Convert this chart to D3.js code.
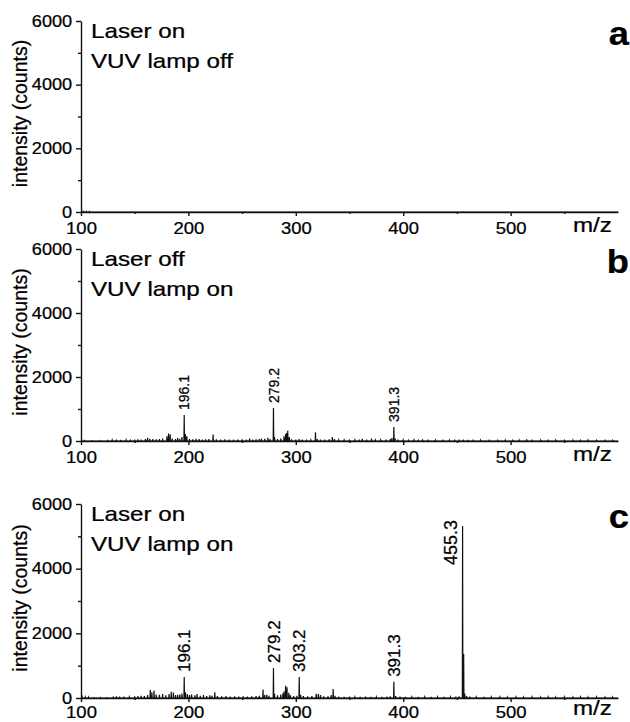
<!DOCTYPE html>
<html>
<head>
<meta charset="utf-8">
<script src="https://cdn.jsdelivr.net/npm/d3@7"></script>
<style>
  body { margin: 0; background: #fff; }
  svg { display: block; font-family: "Liberation Sans", Arial, sans-serif; }
  svg text { fill: #000; stroke: #000; stroke-width: 0.25; }
  .axis path, .axis line { stroke: #111; stroke-width: 1.4; }
  .axis text { fill: #000; font-size: 16.5px; font-family: "Liberation Sans", Arial, sans-serif; }
</style>
</head>
<body>
<div id="vis"></div>
<script>
// mass spectra, three conditions
const FRAME_WIDTH = 630;
const FRAME_HEIGHT = 722;

const panelLetters = ["a", "b", "c"];
const panelNotes = [["Laser on", "VUV lamp off"], ["Laser off", "VUV lamp on"], ["Laser on", "VUV lamp on"]];
const xTicks = [100, 200, 300, 400, 500];
const xMinor = [150, 250, 350, 450, 550];
const yTicks = [0, 2000, 4000, 6000];
const yMinor = [1000, 3000, 5000];

// [m/z, counts] sticks
const specA = [[102, 20], [105, 18], [108, 15]];

const specB = [[103,15],[110,10],[118,12],[125,15],[129,30],[133,40],[137,35],[142,30],[146,20],[150,40],[153,50],[156,45],[160,60],[162,100],[164,70],[167,60],[170,50],[173,60],[176,80],[180,150],[181.5,230],[183,210],[185,80],[188,60],[190,90],[192,70],[194,120],[196.1,810],[197.2,220],[198.5,150],[201,60],[204,50],[207,70],[210,60],[213,40],[216,50],[219,60],[223,200],[226,50],[230,40],[234,50],[238,40],[242,45],[246,40],[250,50],[254,40],[257,80],[260,40],[263,50],[266,60],[268,80],[271,70],[274,100],[276,60],[279.2,1030],[280.2,120],[283,60],[286,80],[289,150],[290.5,220],[291.5,250],[292.5,320],[294,120],[296,50],[300,40],[303,60],[306,40],[310,40],[314,30],[318.3,270],[320,60],[323,40],[327,40],[331,50],[334,120],[336,60],[340,30],[345,30],[350,20],[355,30],[359,40],[362,70],[366,40],[370.5,80],[374,30],[379,30],[384,40],[388,60],[389.5,90],[391.3,440],[392.5,80],[395,40],[400,30],[405,20],[410,30],[414,20],[418,50],[423,20],[430,25],[437,20],[443,25],[448,40],[452,45],[456,40],[460,35],[465,20],[472,25],[480,20],[488,20],[495,25],[502,20],[508,25],[515,50],[520,20],[528,25],[535,20],[542,25],[550,20],[558,25],[565,20],[572,25],[580,20],[588,20],[595,20]];

const specC = [[101,30],[104,30],[107,25],[112,10],[118,15],[124,10],[130,40],[133,50],[136,45],[140,20],[145,30],[150,50],[153,60],[156,70],[159,60],[162,90],[164.5,250],[166,180],[168,230],[170,110],[173,100],[176,120],[179,80],[182,120],[184,190],[186,170],[188,90],[190,100],[192,110],[194,140],[196.1,650],[197.2,180],[199,120],[201,90],[203,110],[206,80],[208,120],[211,70],[214,90],[217,60],[220,80],[222,70],[224.6,175],[227,60],[231,50],[235,60],[239,40],[243,50],[247,40],[251,50],[255,40],[259,50],[263,60],[266,70],[269.5,260],[271,90],[273,100],[275,70],[279.2,930],[280.2,130],[283,80],[286,110],[288,140],[289,200],[290.5,380],[291.8,330],[293.5,160],[295,80],[298,60],[301,70],[303.2,650],[304.5,100],[307,60],[311,50],[315,60],[319,130],[321,120],[323,90],[326,50],[330,50],[333,90],[334.8,280],[336.5,70],[340,40],[345,35],[350,40],[355,30],[360,35],[365,40],[370,35],[375,30],[380,35],[385,40],[388,50],[391.3,500],[393,60],[397,40],[402,35],[408,30],[414,35],[420,30],[426,35],[432,30],[438,35],[444,30],[449,40],[452,50],[455.3,5320],[456.3,1360],[457.3,140],[459,60],[462,40],[468,30],[475,35],[482,30],[490,30],[497,25],[505,30],[512,25],[520,30],[528,25],[535,30],[542,25],[550,30],[558,25],[565,30],[572,25],[580,30],[588,25],[595,25]];

// labelled peaks: [m/z, counts, text]
const labelsB = [[196.1, 810, "196.1"], [279.2, 1030, "279.2"], [391.3, 440, "391.3"]];
const labelsC = [[196.1, 650, "196.1"], [279.2, 930, "279.2"], [303.2, 650, "303.2"], [391.3, 500, "391.3"], [455.3, 5320, "455.3"]];

const spectra = [specA, specB, specC];
const peakLabels = [[], labelsB, labelsC];

// layout of each panel (pixel rows of 6000 and 0)
const PANELS = [
  {top: 21, bottom: 212, labelSize: 14, tickPad: 6, mzDrop: 20},
  {top: 249, bottom: 441, labelSize: 14, tickPad: 6, mzDrop: 20},
  {top: 504, bottom: 698, labelSize: 17, tickPad: 4, mzDrop: 17}
];
const X_LEFT = 81, X_RIGHT = 618;

const svg = d3.select("#vis").append("svg")
  .attr("width", FRAME_WIDTH)
  .attr("height", FRAME_HEIGHT);

const X_SCALE = d3.scaleLinear().domain([100, 600]).range([X_LEFT, X_RIGHT]);

PANELS.forEach((p, i) => {
  const Y_SCALE = d3.scaleLinear().domain([0, 6000]).range([p.bottom, p.top]);
  const g = svg.append("g");

  // spectrum as sticks joined along the baseline
  const pts = [[100, 0]];
  spectra[i].forEach(d => {
    pts.push([d[0] - 0.25, 0], [d[0], d[1]], [d[0] + 0.25, 0]);
  });
  pts.push([600, 0]);
  g.append("path")
    .datum(pts)
    .attr("fill", "none")
    .attr("stroke", "#111")
    .attr("stroke-width", 1.2)
    .attr("d", d3.line().x(d => X_SCALE(d[0])).y(d => Y_SCALE(d[1])));

  // axes
  g.append("g").attr("class", "axis")
    .attr("transform", "translate(0," + p.bottom + ")")
    .call(d3.axisBottom(X_SCALE).tickValues(xTicks).tickSize(4).tickSizeOuter(0).tickPadding(p.tickPad).tickFormat(d3.format("d")))
    .selectAll("text").attr("transform", "scale(1.12,1)");
  g.append("g").attr("class", "axis")
    .attr("transform", "translate(0," + p.bottom + ")")
    .call(d3.axisBottom(X_SCALE).tickValues(xMinor).tickSize(2).tickSizeOuter(0).tickFormat(""))
    .select(".domain").remove();

  g.append("g").attr("class", "axis")
    .attr("transform", "translate(" + X_LEFT + ",0)")
    .call(d3.axisLeft(Y_SCALE).tickValues(yTicks).tickSize(5).tickSizeOuter(0).tickPadding(3).tickFormat(d3.format("d")))
    .selectAll("text").attr("transform", "scale(1.1,1)");
  g.append("g").attr("class", "axis")
    .attr("transform", "translate(" + X_LEFT + ",0)")
    .call(d3.axisLeft(Y_SCALE).tickValues(yMinor).tickSize(3).tickSizeOuter(0).tickFormat(""))
    .select(".domain").remove();

  // y title
  const mid = (p.top + p.bottom) / 2 - 3;
  g.append("text")
    .attr("transform", "translate(27," + mid + ") rotate(-90)")
    .attr("text-anchor", "middle")
    .attr("font-size", 19.5)
    .text("intensity (counts)");

  // m/z label
  g.append("text")
    .attr("transform", "translate(573," + (p.bottom + p.mzDrop) + ") scale(1.15,1)")
    .attr("font-size", 21)
    .text("m/z");

  // condition notes
  panelNotes[i].forEach((t, k) => {
    g.append("text")
      .attr("transform", "translate(" + (X_LEFT + 10) + "," + (p.top + 17 + k * 30) + ") scale(1.18,1)")
      .attr("font-size", 20.5)
      .text(t);
  });

  // panel letter
  g.append("text")
    .attr("transform", "translate(629," + (p.top + 24) + ") scale(1.1,1)")
    .attr("text-anchor", "end")
    .attr("font-size", 33)
    .attr("font-weight", "bold")
    .text(panelLetters[i]);

  // peak labels
  peakLabels[i].forEach(d => {
    const tall = d[1] > 3000;
    const px = X_SCALE(d[0]) + (tall ? -12 : 0);
    const py = tall ? Y_SCALE(d[1]) - 6 : Y_SCALE(d[1]) - 5;
    g.append("text")
      .attr("transform", "translate(" + px + "," + py + ") rotate(-90)")
      .attr("text-anchor", tall ? "end" : "start")
      .attr("dy", "0.36em")
      .attr("font-size", tall ? 18 : p.labelSize)
      .text(d[2]);
  });
});
</script>
</body>
</html>
